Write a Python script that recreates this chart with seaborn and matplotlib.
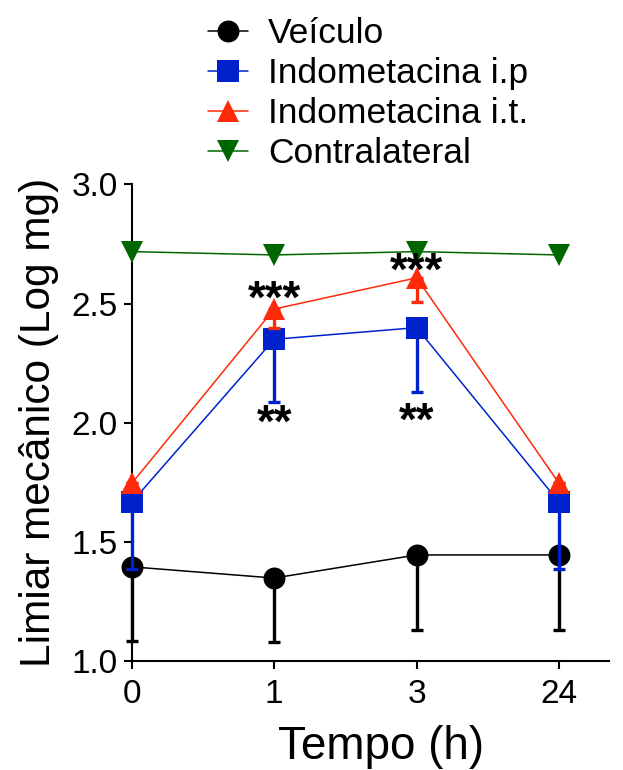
import numpy as np
import pandas as pd
import matplotlib
matplotlib.use("Agg")
import matplotlib.pyplot as plt
import seaborn as sns

# ---- data ----
time_labels = ["0", "1", "3", "24"]
series_names = ["Veículo", "Indometacina i.p", "Indometacina i.t.", "Contralateral"]
veiculo = [1.395, 1.348, 1.445, 1.445]
veiculo_err = [0.310, 0.270, 0.316, 0.316]
indo_ip = [1.666, 2.350, 2.399, 1.666]
indo_ip_err = [0.281, 0.264, 0.271, 0.281]
indo_it = [1.745, 2.477, 2.608, 1.745]
indo_it_err = [0.0, 0.078, 0.100, 0.0]
contralateral = [2.718, 2.704, 2.718, 2.704]
contralateral_err = [0.0, 0.0, 0.0, 0.0]
sig_top_labels = ["", "***", "***", ""]
sig_bottom_labels = ["", "**", "**", ""]
y_ticks = [1.0, 1.5, 2.0, 2.5, 3.0]

sns.set_theme(style="ticks")
plt.rcParams['font.family'] = ['Liberation Sans', 'DejaVu Sans']
plt.rcParams['text.color'] = 'black'
plt.rcParams['axes.labelcolor'] = 'black'

fig = plt.figure(figsize=(6.23, 7.70), dpi=100)
ax = fig.add_axes([0.2114, 0.1416, 0.7661, 0.6189])

x = np.arange(len(time_labels))
styles = [
    ("black", "o", 15.8),
    ("#0022CC", "s", 16.0),
    ("#FF2A0A", "^", 16.0),
    ("#006600", "v", 16.0),
]
values = [veiculo, indo_ip, indo_it, contralateral]
errors = [veiculo_err, indo_ip_err, indo_it_err, contralateral_err]

for i, (name, vals, errs, (color, marker, ms)) in enumerate(zip(series_names, values, errors, styles)):
    df = pd.DataFrame({"x": x, "y": vals})
    z = 3 + 2 * i
    sns.lineplot(data=df, x="x", y="y", color=color, marker=marker, markersize=ms,
                 markeredgewidth=0, linewidth=1.1, ax=ax, label=name, zorder=z + 1,
                 clip_on=False)
    if any(e > 0 for e in errs):
        eb = ax.errorbar(x, vals, yerr=[errs, np.zeros(len(errs))], fmt='none', ecolor=color,
                         elinewidth=2.4, capsize=4.3, capthick=2.4, zorder=z)
        for art in eb.get_children():
            art.set_clip_on(False)

# significance marks
for xi, lab, yv in zip(x, sig_top_labels, [2.51, 2.51, 2.63, 2.63]):
    if lab:
        ax.text(xi, yv, lab, ha='center', va='center', fontsize=33, fontweight='bold',
                color='black', zorder=10)
for xi, lab, yv in zip(x, sig_bottom_labels, [1.99, 1.99, 2.0, 2.0]):
    if lab:
        ax.text(xi, yv, lab, ha='center', va='center', fontsize=33, fontweight='bold',
                color='black', zorder=10)

ax.set_xlim(0, 3.35)
ax.set_ylim(1.0, 3.0)
ax.set_xticks(x)
ax.set_xticklabels(time_labels)
ax.set_yticks(y_ticks)
ax.set_yticklabels([f"{v:.1f}" for v in y_ticks])
sns.despine(ax=ax)
for sp in ["left", "bottom"]:
    ax.spines[sp].set_linewidth(1.5)
    ax.spines[sp].set_color("black")
ax.tick_params(axis='both', length=6, width=1.5, labelsize=24, direction='out', pad=4,
               colors='black')
ax.tick_params(axis='x', pad=7)
ax.set_ylabel("Limiar mecânico (Log mg)", fontsize=30.5, labelpad=9)
ax.set_xlabel("Tempo (h)", fontsize=33, labelpad=11, x=0.522)

handles, labels = ax.get_legend_handles_labels()
ax.get_legend().remove()
fig.legend(handles, labels, loc='upper left', bbox_to_anchor=(208 / 623, 1 - 17 / 770),
           frameon=False, fontsize=25.5, handlelength=1.13, handletextpad=0.56,
           labelspacing=0.2, borderpad=0, borderaxespad=0)

fig.savefig("out.png", dpi=100)
